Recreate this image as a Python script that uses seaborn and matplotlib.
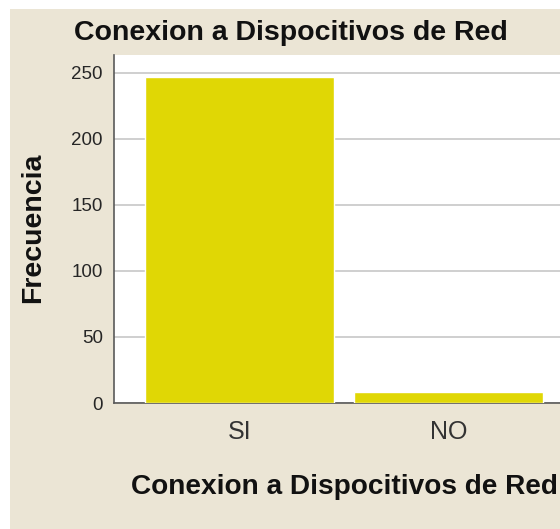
import matplotlib
matplotlib.use("Agg")
import matplotlib.pyplot as plt
import seaborn as sns
import pandas as pd
from matplotlib.patches import Rectangle

categorias = ["SI", "NO"]
frecuencias = [247, 8]
ticks_y = [0, 50, 100, 150, 200, 250]

titulo = "Conexion a Dispocitivos de Red"
etiqueta_x = "Conexion a Dispocitivos de Red"
etiqueta_y = "Frecuencia"

sns.set_theme(style="white")
plt.rcParams["font.family"] = ["Liberation Sans", "DejaVu Sans"]

W, H = 560, 529
fig = plt.figure(figsize=(W / 100, H / 100), dpi=100, facecolor="white")

# beige panel behind the chart
fig.patches.append(Rectangle((10 / W, 0), 1 - 10 / W, 1 - 9 / H,
                             transform=fig.transFigure, facecolor="#EBE5D5",
                             edgecolor="none", zorder=-10))

left, right, bottom, top = 114, 574, 403, 55
ax = fig.add_axes([left / W, 1 - bottom / H, (right - left) / W, (bottom - top) / H])
ax.set_zorder(1)
ax.set_facecolor("white")

df = pd.DataFrame({"cat": categorias, "freq": frecuencias})
sns.barplot(data=df, x="cat", y="freq", color="#E0D705", saturation=1,
            width=0.9, ax=ax, zorder=3)

ax.set_xlim(-0.6, 1.6)
ax.set_ylim(0, 263.5)
ax.set_yticks(ticks_y)
ax.yaxis.grid(True, color="#CFCFCF", linewidth=1.4, zorder=0)
ax.set_axisbelow(True)

for s in ["top", "right"]:
    ax.spines[s].set_visible(False)
for s in ["left", "bottom"]:
    ax.spines[s].set_color("#5A5A5A")
    ax.spines[s].set_linewidth(1.2)

ax.tick_params(axis="y", length=0, pad=8, labelsize=13.5, labelcolor="#262626")
ax.tick_params(axis="x", length=0, pad=12.5, labelsize=18, labelcolor="#333333")

ax.set_xlabel("")
ax.set_ylabel("")
fig.text(344 / W, 1 - 487 / H, etiqueta_x, ha="center", va="center",
         fontsize=20.2, fontweight="bold", color="#111111", zorder=5)
fig.text(33 / W, 1 - 228 / H, etiqueta_y, ha="center", va="center",
         rotation=90, fontsize=20.5, fontweight="bold", color="#111111", zorder=5)
fig.text(291 / W, 1 - 33 / H, titulo, ha="center", va="center",
         fontsize=20.5, fontweight="bold", color="#111111", zorder=5)

fig.savefig("out.png", dpi=100, facecolor="white")
